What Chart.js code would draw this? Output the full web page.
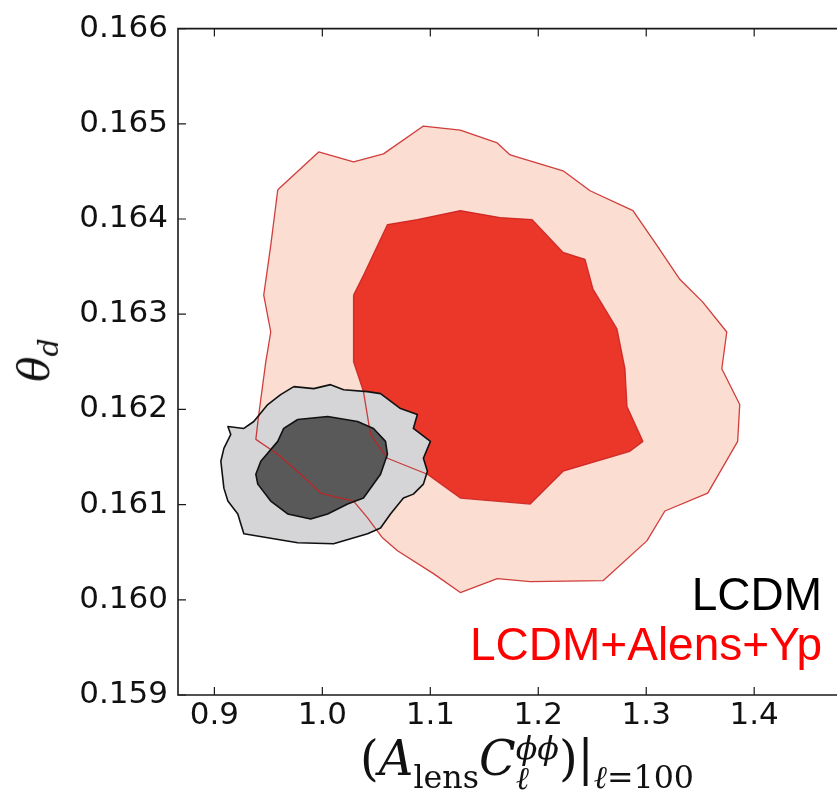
<!DOCTYPE html>
<html>
<head>
<meta charset="utf-8">
<script src="https://cdn.jsdelivr.net/npm/chart.js@4.4.1/dist/chart.umd.min.js"></script>
<style>
  html, body { margin: 0; padding: 0; background: #ffffff; }
  #wrap { position: relative; width: 837px; height: 805px; overflow: hidden; }
  #c { position: absolute; left: 0; top: 0; }
  .xtitle { position: absolute; left: 527px; top: 733px; transform: translateX(-50%);
    font-family: 'DejaVu Serif', 'Liberation Serif', serif; font-size: 48px; color: #111; white-space: nowrap; line-height: 1; }
  .xtitle sub { font-size: 0.66em; vertical-align: -0.4em; line-height: 0; }
  .xtitle .stack { display: inline-block; font-size: 0.66em; vertical-align: -0.45em; line-height: 0.95; text-align: left; }
  .ytitle { position: absolute; left: 38px; top: 360px; transform: translate(-50%, -50%) rotate(-90deg);
    font-family: 'DejaVu Serif', 'Liberation Serif', serif; font-size: 42px; color: #111; white-space: nowrap; line-height: 1; }
  .ytitle sub { font-size: 0.68em; vertical-align: -0.3em; }
</style>
</head>
<body>
<div id="wrap">
  <canvas id="c" width="837" height="805"></canvas>
  <div class="xtitle">(<i>A</i><sub>lens</sub><i>C</i><span class="stack"><i>ϕϕ</i><br><i>ℓ</i></span>)|<sub><i>ℓ</i>=100</sub></div>
  <div class="ytitle"><i>θ</i><sub><i>d</i></sub></div>
</div>
<script>
// ---- tick labels ----
const xTickValues = [0.9, 1.0, 1.1, 1.2, 1.3, 1.4];
const xTickLabels = ['0.9', '1.0', '1.1', '1.2', '1.3', '1.4'];
const yTickValues = [0.159, 0.160, 0.161, 0.162, 0.163, 0.164, 0.165, 0.166];
const yTickLabels = ['0.159', '0.160', '0.161', '0.162', '0.163', '0.164', '0.165', '0.166'];

// ---- series labels ----
const seriesLabels = ['LCDM', 'LCDM+Alens+Yp'];

// ---- LCDM contours (x = Alens C_l, y = theta_d) ----
const lcdmInnerX = [0.9772, 1.0049, 1.0326, 1.0474, 1.0585, 1.0603, 1.0539, 1.0381, 1.0234, 1.0049, 0.9892, 0.9679, 0.9522, 0.9402, 0.9384, 0.9430, 0.9587, 0.9642, 0.9772];
const lcdmInnerY = [0.161894, 0.161925, 0.161873, 0.161800, 0.161664, 0.161528, 0.161319, 0.161069, 0.161006, 0.160902, 0.160849, 0.160902, 0.161037, 0.161215, 0.161319, 0.161455, 0.161664, 0.161800, 0.161894];

const lcdmOuterX = [0.9735, 0.9920, 1.0076, 1.0197, 1.0419, 1.0539, 1.0724, 1.0880, 1.0843, 1.1001, 1.0936, 1.0973, 1.0936, 1.0843, 1.0751, 1.0631, 1.0539, 1.0419, 1.0104, 0.9772, 0.9494, 0.9273, 0.9245, 0.9217, 0.9125, 0.9088, 0.9060, 0.9088, 0.9152, 0.9125, 0.9273, 0.9365, 0.9494, 0.9614, 0.9735];
const lcdmOuterY = [0.162239, 0.162218, 0.162260, 0.162207, 0.162187, 0.162166, 0.162009, 0.161946, 0.161800, 0.161664, 0.161487, 0.161351, 0.161215, 0.161110, 0.161069, 0.160902, 0.160755, 0.160693, 0.160588, 0.160599, 0.160651, 0.160693, 0.160797, 0.160902, 0.161037, 0.161173, 0.161455, 0.161591, 0.161737, 0.161821, 0.161800, 0.161873, 0.162051, 0.162155, 0.162239];

// ---- LCDM+Alens+Yp contours ----
const alensInnerX = [1.0289, 1.0381, 1.0603, 1.0880, 1.1278, 1.1647, 1.1943, 1.2230, 1.2433, 1.2507, 1.2729, 1.2803, 1.2822, 1.2969, 1.2849, 1.2230, 1.1925, 1.1278, 1.0973, 1.0603, 1.0446, 1.0381, 1.0289, 1.0289];
const alensInnerY = [0.163200, 0.163409, 0.163942, 0.163994, 0.164088, 0.164015, 0.163994, 0.163649, 0.163576, 0.163263, 0.162845, 0.162427, 0.162030, 0.161664, 0.161560, 0.161351, 0.161006, 0.161069, 0.161319, 0.161487, 0.161737, 0.162187, 0.162500, 0.163200];

const alensOuterX = [0.9587, 0.9966, 1.0289, 1.0566, 1.0936, 1.1278, 1.1620, 1.1740, 1.2230, 1.2480, 1.2877, 1.3099, 1.3311, 1.3524, 1.3746, 1.3700, 1.3866, 1.3847, 1.3570, 1.3173, 1.3006, 1.2600, 1.1925, 1.1620, 1.1278, 1.1029, 1.0696, 1.0557, 1.0419, 1.0289, 1.0169, 0.9984, 0.9799, 0.9587, 0.9384, 0.9411, 0.9476, 0.9522, 0.9457, 0.9522, 0.9587];
const alensOuterY = [0.164307, 0.164704, 0.164600, 0.164684, 0.164976, 0.164934, 0.164799, 0.164673, 0.164506, 0.164297, 0.164088, 0.163722, 0.163367, 0.163127, 0.162813, 0.162427, 0.162051, 0.161664, 0.161121, 0.160933, 0.160619, 0.160201, 0.160191, 0.160222, 0.160076, 0.160275, 0.160515, 0.160651, 0.160860, 0.161037, 0.161069, 0.161121, 0.161319, 0.161528, 0.161685, 0.161946, 0.162500, 0.162813, 0.163200, 0.163722, 0.164307];

const toPts = (xs, ys) => xs.map((x, i) => ({ x: x, y: ys[i] }));

const RED_LINE = 'rgba(200,30,30,0.85)';

const datasets = [
  { label: seriesLabels[0], data: toPts(lcdmInnerX, lcdmInnerY), backgroundColor: '#595959', borderColor: '#111111', borderWidth: 1.6 },
  { label: seriesLabels[0], data: toPts(lcdmOuterX, lcdmOuterY), backgroundColor: '#d5d5d7', borderColor: '#111111', borderWidth: 1.6 },
  { label: seriesLabels[1], data: toPts(alensInnerX, alensInnerY), backgroundColor: '#ea3729', borderColor: RED_LINE, borderWidth: 1.3 },
  { label: seriesLabels[1], data: toPts(alensOuterX, alensOuterY), backgroundColor: '#fcddd1', borderColor: RED_LINE, borderWidth: 1.3 }
].map(d => Object.assign(d, { showLine: true, fill: 'shape', tension: 0, pointRadius: 0, pointHoverRadius: 0, borderJoinStyle: 'round' }));

const legendColors = ['#000000', '#ff0000'];

const framePlugin = {
  id: 'frame',
  afterDatasetsDraw(chart) {
    const { ctx, chartArea: a, scales } = chart;
    ctx.save();
    ctx.strokeStyle = '#1a1a1a';
    ctx.lineWidth = 1.6;
    ctx.beginPath();
    ctx.moveTo(a.right + 2, a.top); ctx.lineTo(a.left, a.top);
    ctx.lineTo(a.left, a.bottom); ctx.lineTo(a.right + 2, a.bottom);
    ctx.stroke();
    ctx.lineWidth = 1.2;
    ctx.beginPath();
    scales.y.ticks.forEach(t => {
      const py = scales.y.getPixelForValue(t.value);
      ctx.moveTo(a.left, py); ctx.lineTo(a.left + 8, py);
    });
    scales.x.ticks.forEach(t => {
      const px = scales.x.getPixelForValue(t.value);
      ctx.moveTo(px, a.bottom); ctx.lineTo(px, a.bottom - 8);
      ctx.moveTo(px, a.top); ctx.lineTo(px, a.top + 8);
    });
    ctx.stroke();
    ctx.restore();
  },
  afterDraw(chart) {
    const { ctx, chartArea: a } = chart;
    ctx.save();
    ctx.font = '46px "Liberation Sans", Arial, sans-serif';
    ctx.textAlign = 'right';
    ctx.textBaseline = 'alphabetic';
    seriesLabels.forEach((s, i) => {
      ctx.fillStyle = legendColors[i];
      ctx.fillText(s, 822, a.bottom - 85 + i * 50);
    });
    ctx.restore();
  }
};

new Chart(document.getElementById('c'), {
  type: 'scatter',
  data: { datasets },
  options: {
    responsive: false,
    animation: false,
    events: [],
    layout: { padding: { top: 25, left: 0, right: 0, bottom: 0 } },
    plugins: {
      legend: { display: false },
      tooltip: { enabled: false },
      filler: { drawTime: 'beforeDatasetsDraw' }
    },
    scales: {
      x: {
        type: 'linear',
        min: 0.8663,
        max: 1.4767,
        grid: { display: false, drawTicks: false },
        border: { display: false },
        afterBuildTicks: s => { s.ticks = xTickValues.map(v => ({ value: v })); },
        afterFit: s => { s.height = 110; },
        ticks: {
          padding: 2,
          maxRotation: 0,
          autoSkip: false,
          color: '#111',
          font: { family: '"DejaVu Sans"', size: 31 },
          callback: (v, i) => xTickLabels[i]
        }
      },
      y: {
        type: 'linear',
        min: 0.159,
        max: 0.166,
        grid: { display: false, drawTicks: false },
        border: { display: false },
        afterBuildTicks: s => { s.ticks = yTickValues.map(v => ({ value: v })); },
        afterFit: s => { s.width = 178; },
        ticks: {
          padding: 10,
          autoSkip: false,
          color: '#111',
          font: { family: '"DejaVu Sans"', size: 31 },
          callback: (v, i) => yTickLabels[i]
        }
      }
    }
  },
  plugins: [framePlugin]
});
</script>
</body>
</html>
